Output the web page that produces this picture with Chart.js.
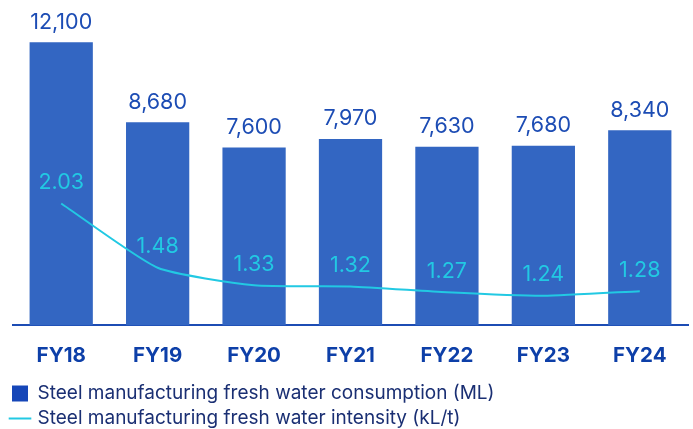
<!DOCTYPE html>
<html>
<head>
    <title>Fresh water</title>
    <script src="https://cdn.jsdelivr.net/npm/chart.js"></script>
    <style>
        body { margin: 0; background: #fff; }
        #wrap { width: 693px; height: 429px; }
    </style>
</head>
<body>
    <div id="wrap"><canvas id="myChart"></canvas></div>

    <script>
        const years = ['FY18', 'FY19', 'FY20', 'FY21', 'FY22', 'FY23', 'FY24'];
        const consumption = [12100, 8680, 7600, 7970, 7630, 7680, 8340];
        const intensity = [2.03, 1.48, 1.33, 1.32, 1.27, 1.24, 1.28];
        const consumptionLabel = 'Steel manufacturing fresh water consumption (ML)';
        const intensityLabel = 'Steel manufacturing fresh water intensity (kL/t)';

        const font = "Inter, 'Noto Sans', sans-serif";

        // draws the value above each bar and point
        const valueLabels = {
            id: 'valueLabels',
            beforeDraw(chart) {
                // legend sits a bit further left than the plot area
                chart.legend.left = 6;
            },
            afterDatasetsDraw(chart) {
                const ctx = chart.ctx;
                ctx.save();
                ctx.textAlign = 'center';
                ctx.textBaseline = 'middle';
                chart.data.datasets.forEach(function(ds, i) {
                    const meta = chart.getDatasetMeta(i);
                    meta.data.forEach(function(el, j) {
                        const v = ds.data[j];
                        if (ds.type === 'bar') {
                            ctx.fillStyle = '#1c4cb4';
                            ctx.font = '21.5px ' + font;
                            ctx.fillText(v.toLocaleString('en-US'), el.x, el.y - 20);
                        } else {
                            ctx.fillStyle = '#22c9e3';
                            ctx.font = '21.5px ' + font;
                            ctx.fillText(v.toFixed(2), el.x, el.y - 21);
                        }
                    });
                });
                ctx.restore();
            }
        };

        new Chart(document.getElementById('myChart'), {
            data: {
                labels: years,
                datasets: [{
                    type: 'line',
                    label: intensityLabel,
                    data: intensity,
                    yAxisID: 'y1',
                    borderColor: '#22c9e3',
                    backgroundColor: '#22c9e3',
                    borderWidth: 2,
                    pointRadius: 0,
                    tension: 0.18,
                    order: 0
                }, {
                    type: 'bar',
                    label: consumptionLabel,
                    data: consumption,
                    yAxisID: 'y',
                    backgroundColor: '#3366c2',
                    barPercentage: 0.656,
                    categoryPercentage: 1.0,
                    order: 1
                }]
            },
            options: {
                responsive: true,
                maintainAspectRatio: false,
                animation: false,
                layout: { padding: { left: 13, right: 5, top: 2, bottom: -9 } },
                scales: {
                    x: {
                        grid: { display: false },
                        border: { color: '#1c4cb4', width: 2 },
                        ticks: {
                            color: '#0d3fa8',
                            font: { family: font, size: 20.5, weight: 'bold' },
                            padding: 10
                        }
                    },
                    y: {
                        display: false,
                        min: 0,
                        max: 13820
                    },
                    y1: {
                        display: false,
                        min: 0.987,
                        max: 3.754
                    }
                },
                plugins: {
                    legend: {
                        position: 'bottom',
                        align: 'start',
                        reverse: true,
                        labels: {
                            usePointStyle: true,
                            color: '#1a2f73',
                            font: { family: font, size: 19 },
                            boxWidth: 16,
                            boxHeight: 16,
                            padding: 6,
                            generateLabels(chart) {
                                return chart.data.datasets.map(function(ds, i) {
                                    const isBar = ds.type === 'bar';
                                    return {
                                        text: ds.label,
                                        fillStyle: isBar ? '#1646b8' : '#22c9e3',
                                        strokeStyle: isBar ? '#1646b8' : '#22c9e3',
                                        lineWidth: isBar ? 0 : 2,
                                        pointStyle: isBar ? 'rect' : 'line',
                                        fontColor: '#1a2f73',
                                        datasetIndex: i
                                    };
                                });
                            }
                        }
                    },
                    tooltip: { enabled: false }
                }
            },
            plugins: [valueLabels]
        });
    </script>
</body>
</html>
